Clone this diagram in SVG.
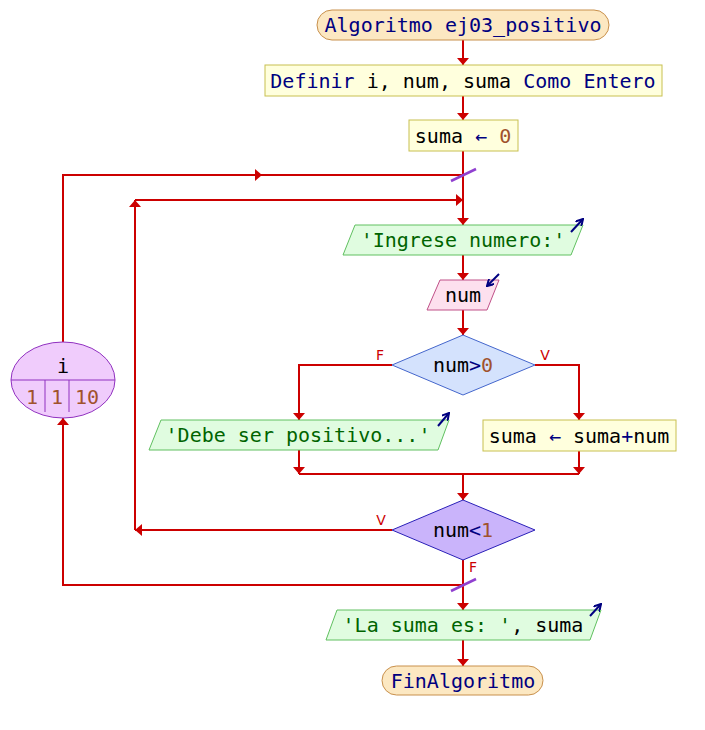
<svg xmlns="http://www.w3.org/2000/svg" width="705" height="730" viewBox="0 0 705 730">
<style>
.t{font-family:"DejaVu Sans Mono","Liberation Mono",monospace;font-size:20px;text-anchor:middle}
.kw{fill:#000080}.id{fill:#000000}.st{fill:#006400}.nu{fill:#a0522d}
.c{stroke:#cc0000;stroke-width:2;fill:none}
.lbl{font-family:"DejaVu Sans","Liberation Sans",sans-serif;font-size:14px;fill:#cc0000;text-anchor:middle}
.sl{stroke:#9040d0;stroke-width:2.5;fill:none}
.ic{stroke:#000080;stroke-width:2;fill:none}
.term{fill:#fce8c2;stroke:#c8904c;stroke-width:1}
.proc{fill:#ffffdd;stroke:#c8c050;stroke-width:1}
.out{fill:#e0fce0;stroke:#60c060;stroke-width:1}
.inp{fill:#fde0ee;stroke:#c05088;stroke-width:1}
</style>
<defs>
<marker id="ah" markerUnits="userSpaceOnUse" markerWidth="7" markerHeight="12" viewBox="0 0 7 12" refX="7" refY="6" orient="auto"><path d="M0,0 L7,6 L0,12 z" fill="#cc0000"/></marker>
<marker id="ih" markerUnits="userSpaceOnUse" markerWidth="8" markerHeight="8" viewBox="0 0 8 8" refX="7" refY="4" orient="auto"><path d="M0,0 L7,4 L0,8" fill="none" stroke="#000080" stroke-width="2"/></marker>
</defs>
<g id="connectors">
<line class="c" x1="463" y1="40" x2="463" y2="65" marker-end="url(#ah)"/>
<line class="c" x1="463" y1="96" x2="463" y2="120" marker-end="url(#ah)"/>
<line class="c" x1="463" y1="151" x2="463" y2="225" marker-end="url(#ah)"/>
<polyline class="c" points="63,342 63,175 262,175" marker-end="url(#ah)"/>
<line class="c" x1="260" y1="175" x2="463" y2="175"/>
<line class="c" x1="392" y1="530" x2="135" y2="530" marker-end="url(#ah)"/>
<line class="c" x1="135" y1="530" x2="135" y2="200" marker-end="url(#ah)"/>
<line class="c" x1="135" y1="200" x2="463" y2="200" marker-end="url(#ah)"/>
<line class="c" x1="463" y1="255" x2="463" y2="280" marker-end="url(#ah)"/>
<line class="c" x1="463" y1="310" x2="463" y2="335" marker-end="url(#ah)"/>
<polyline class="c" points="392,365 299,365 299,420" marker-end="url(#ah)"/>
<polyline class="c" points="535,365 579,365 579,420" marker-end="url(#ah)"/>
<line class="c" x1="299" y1="450" x2="299" y2="474" marker-end="url(#ah)"/>
<line class="c" x1="579" y1="451" x2="579" y2="474" marker-end="url(#ah)"/>
<line class="c" x1="299" y1="474" x2="579" y2="474"/>
<line class="c" x1="463" y1="474" x2="463" y2="500" marker-end="url(#ah)"/>
<line class="c" x1="463" y1="560" x2="463" y2="610" marker-end="url(#ah)"/>
<polyline class="c" points="463,585 63,585 63,418" marker-end="url(#ah)"/>
<line class="c" x1="463" y1="640" x2="463" y2="666" marker-end="url(#ah)"/>
<line class="sl" x1="451" y1="181" x2="476" y2="169"/>
<line class="sl" x1="451" y1="591" x2="476" y2="579"/>
<text class="lbl" x="380" y="360">F</text>
<text class="lbl" x="545" y="360">V</text>
<text class="lbl" x="381" y="525">V</text>
<text class="lbl" x="473" y="572">F</text>
</g>
<g id="start">
<rect class="term" x="317" y="10" width="292" height="30" rx="15"/>
<text class="t kw" x="463" y="32">Algoritmo ej03_positivo</text>
</g>
<g id="define">
<rect class="proc" x="265" y="65" width="397" height="31"/>
<text class="t" x="463" y="87.5" xml:space="preserve"><tspan class="kw">Definir</tspan><tspan class="id"> i, num, suma </tspan><tspan class="kw">Como Entero</tspan></text>
</g>
<g id="assign0">
<rect class="proc" x="409" y="120" width="109" height="31"/>
<text class="t" x="463" y="142.5" xml:space="preserve"><tspan class="id">suma</tspan><tspan class="kw"> ← </tspan><tspan class="nu">0</tspan></text>
</g>
<g id="for">
<ellipse cx="63" cy="380" rx="52" ry="38" fill="#f0ccfc" stroke="#9030c0" stroke-width="1"/>
<line x1="11" y1="380" x2="115" y2="380" stroke="#9030c0" stroke-width="1"/>
<line x1="45" y1="380" x2="45" y2="412" stroke="#9030c0" stroke-width="1"/>
<line x1="69" y1="380" x2="69" y2="412" stroke="#9030c0" stroke-width="1"/>
<text class="t id" x="63" y="373">i</text>
<text class="t nu" x="32" y="404">1</text>
<text class="t nu" x="57" y="404">1</text>
<text class="t nu" x="87" y="404">10</text>
</g>
<g id="out1">
<polygon class="out" points="355,225 583,225 571,255 343,255"/>
<text class="t st" x="463" y="247">'Ingrese numero:'</text>
<line class="ic" x1="571" y1="232" x2="583" y2="219" marker-end="url(#ih)"/>
</g>
<g id="in1">
<polygon class="inp" points="440,280 499,280 487,310 427,310"/>
<text class="t id" x="463" y="302">num</text>
<line class="ic" x1="499" y1="274" x2="487" y2="286" marker-end="url(#ih)"/>
</g>
<g id="if1">
<polygon points="463,335 535,365 463,395 392,365" fill="#d4e2fd" stroke="#4466cc" stroke-width="1"/>
<text class="t" x="463" y="372"><tspan class="id">num</tspan><tspan class="kw">&gt;</tspan><tspan class="nu">0</tspan></text>
</g>
<g id="out2">
<polygon class="out" points="161,420 449,420 438,450 149,450"/>
<text class="t st" x="298" y="442">'Debe ser positivo...'</text>
<line class="ic" x1="438" y1="426" x2="449" y2="413" marker-end="url(#ih)"/>
</g>
<g id="assign1">
<rect class="proc" x="483" y="420" width="193" height="31"/>
<text class="t" x="579" y="442.5" xml:space="preserve"><tspan class="id">suma</tspan><tspan class="kw"> ← </tspan><tspan class="id">suma</tspan><tspan class="kw">+</tspan><tspan class="id">num</tspan></text>
</g>
<g id="until">
<polygon points="463,500 535,530 463,560 392,530" fill="#cab4fb" stroke="#2a20b8" stroke-width="1"/>
<text class="t" x="463" y="537"><tspan class="id">num</tspan><tspan class="kw">&lt;</tspan><tspan class="nu">1</tspan></text>
</g>
<g id="out3">
<polygon class="out" points="337,610 601,610 590,640 326,640"/>
<text class="t" x="463" y="632" xml:space="preserve"><tspan class="st">'La suma es: '</tspan><tspan class="id">, suma</tspan></text>
<line class="ic" x1="590" y1="616" x2="601" y2="604" marker-end="url(#ih)"/>
</g>
<g id="end">
<rect class="term" x="382" y="666" width="161" height="29" rx="14.5"/>
<text class="t kw" x="463" y="687.5">FinAlgoritmo</text>
</g>
</svg>
